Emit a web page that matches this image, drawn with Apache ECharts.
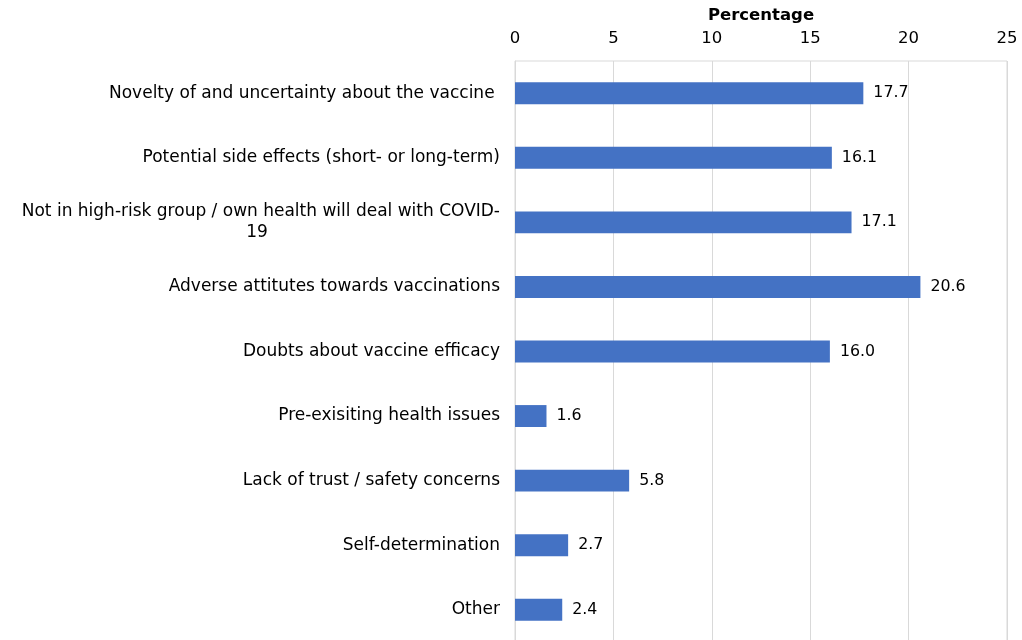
<!DOCTYPE html>
<html>
<head>
<meta charset="utf-8">
<script src="https://cdn.jsdelivr.net/npm/echarts@6/dist/echarts.min.js"></script>
<style>html,body{margin:0;padding:0;background:#fff}#c{width:1022px;height:640px}</style>
</head>
<body>
<div id="c"></div>
<script>
const categories = [
  "Novelty of and uncertainty about the vaccine ",
  "Potential side effects (short- or long-term)",
  "Not in high-risk group / own health will deal with COVID-\n19",
  "Adverse attitutes towards vaccinations",
  "Doubts about vaccine efficacy",
  "Pre-exisiting health issues",
  "Lack of trust / safety concerns",
  "Self-determination",
  "Other"
];
const values = [17.7, 16.1, 17.1, 20.6, 16.0, 1.6, 5.8, 2.7, 2.4];
const axisName = "Percentage";

const chart = echarts.init(document.getElementById('c'));
const FONT = '"DejaVu Sans", Verdana, sans-serif';
const FS = 16.5;
const CFS = 17;
const LFS = 15.8;
chart.setOption({
  animation: false,
  grid: { left: 515, right: 15, top: 61, bottom: -2, show: true, borderColor: '#d9d9d9', borderWidth: 1,
          outerBoundsMode: 'none', containLabel: false },
  xAxis: {
    type: 'value', position: 'top', min: 0, max: 25, interval: 5,
    name: axisName, nameLocation: 'middle', nameGap: 37,
    nameTextStyle: { fontFamily: FONT, fontSize: FS, fontWeight: 'bold', color: '#000' },
    axisLine: { show: false }, axisTick: { show: false },
    axisLabel: { fontFamily: FONT, fontSize: FS, color: '#000', margin: 14 },
    splitLine: { lineStyle: { color: '#d9d9d9' } }
  },
  yAxis: {
    type: 'category', inverse: true, data: categories,
    axisLine: { show: true, lineStyle: { color: '#d9d9d9' } },
    axisTick: { show: false },
    axisLabel: {
      fontFamily: FONT, fontSize: CFS, color: '#000', margin: 15, lineHeight: 21,
      formatter: function (v) {
        const parts = v.split('\n');
        if (parts.length === 1) return v;
        return parts[0] + '\n{c|' + parts[1] + '}';
      },
      rich: { c: { width: 486, align: 'center', fontFamily: FONT, fontSize: CFS, color: '#000', lineHeight: 21 } }
    }
  },
  series: [{
    type: 'bar', data: values, barWidth: '34%',
    itemStyle: { color: '#4472C4' },
    label: { show: true, position: 'right', distance: 10, fontFamily: FONT, fontSize: LFS, color: '#000',
      formatter: p => p.value.toFixed(1) }
  }]
});
</script>
</body>
</html>
